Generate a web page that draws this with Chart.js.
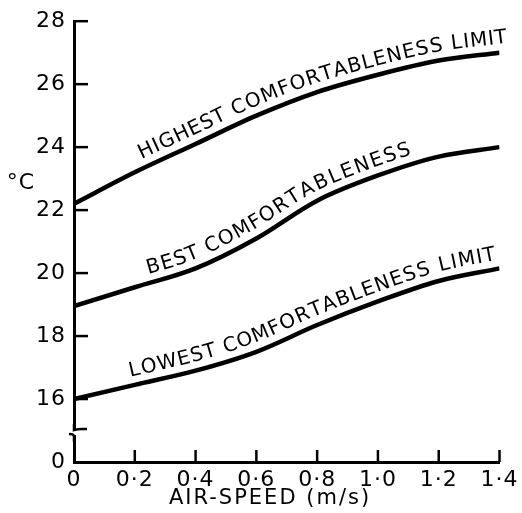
<!DOCTYPE html>
<html>
<head>
<meta charset="utf-8">
<script src="https://cdn.jsdelivr.net/npm/chart.js@4.4.1/dist/chart.umd.min.js"></script>
<style>
  html, body { margin: 0; padding: 0; background: #fff; }
</style>
</head>
<body>
<canvas id="chart" width="522" height="513"></canvas>
<script>
const airSpeed = [0, 0.2, 0.4, 0.6, 0.8, 1.0, 1.2, 1.4];
const highestLimit = [22.2, 23.2, 24.1, 25.0, 25.75, 26.3, 26.75, 27.0];
const bestComfort = [18.95, 19.55, 20.15, 21.1, 22.3, 23.1, 23.7, 24.0];
const lowestLimit = [16.0, 16.45, 16.9, 17.5, 18.35, 19.1, 19.75, 20.15];
const seriesNames = [
  "HIGHEST COMFORTABLENESS LIMIT",
  "BEST COMFORTABLENESS",
  "LOWEST COMFORTABLENESS LIMIT",
];
const xTickLabels = ["0", "0·2", "0·4", "0·6", "0·8", "1·0", "1·2", "1·4"];
const yTickLabels = ["0", "16", "18", "20", "22", "24", "26", "28"];
const xTitle = "AIR-SPEED (m/s)";
const yTitle = "°C";

const FONT = "'DejaVu Sans', sans-serif";

const toPoints = (ys) => airSpeed.map((x, i) => ({ x, y: ys[i] }));

// sample the drawn bezier of a dataset into a polyline
const curvePolyline = (meta) => {
  const pts = meta.data;
  const out = [];
  for (let i = 0; i < pts.length - 1; i++) {
    const a = pts[i];
    const b = pts[i + 1];
    const c1x = a.cp2x ?? a.x, c1y = a.cp2y ?? a.y;
    const c2x = b.cp1x ?? b.x, c2y = b.cp1y ?? b.y;
    for (let k = 0; k < 24; k++) {
      const t = k / 24, u = 1 - t;
      out.push({
        x: u * u * u * a.x + 3 * u * u * t * c1x + 3 * u * t * t * c2x + t * t * t * b.x,
        y: u * u * u * a.y + 3 * u * u * t * c1y + 3 * u * t * t * c2y + t * t * t * b.y,
      });
    }
  }
  const last = pts[pts.length - 1];
  const prev = out[out.length - 1];
  out.push({ x: last.x, y: last.y });
  // extend a little past the end along the final direction
  const dx = last.x - prev.x, dy = last.y - prev.y;
  const d = Math.hypot(dx, dy) || 1;
  out.push({ x: last.x + (dx / d) * 40, y: last.y + (dy / d) * 40 });
  let s = 0;
  out.forEach((p, i) => {
    if (i) s += Math.hypot(p.x - out[i - 1].x, p.y - out[i - 1].y);
    p.s = s;
  });
  return out;
};

const arcAtX = (poly, x) => {
  for (let i = 1; i < poly.length; i++) {
    if (poly[i].x >= x) {
      const a = poly[i - 1], b = poly[i];
      const t = (x - a.x) / (b.x - a.x || 1);
      return a.s + t * (b.s - a.s);
    }
  }
  return poly[poly.length - 1].s;
};

const pointAtArc = (poly, s) => {
  for (let i = 1; i < poly.length; i++) {
    if (poly[i].s >= s) {
      const a = poly[i - 1], b = poly[i];
      const t = (s - a.s) / (b.s - a.s || 1);
      return {
        x: a.x + t * (b.x - a.x),
        y: a.y + t * (b.y - a.y),
        angle: Math.atan2(b.y - a.y, b.x - a.x),
      };
    }
  }
  const a = poly[poly.length - 2], b = poly[poly.length - 1];
  return { x: b.x, y: b.y, angle: Math.atan2(b.y - a.y, b.x - a.x) };
};

const decorPlugin = {
  id: "decor",
  beforeDraw(chart) {
    chart.ctx.letterSpacing = "1px";
  },
  afterDraw(chart) {
    const { ctx, chartArea, scales } = chart;
    const xs = scales.x;
    const ys = scales.y;
    ctx.save();
    ctx.strokeStyle = "#000";
    ctx.fillStyle = "#000";
    ctx.lineWidth = 2.5;
    ctx.lineCap = "butt";

    // inward tick marks
    ys.ticks.forEach((t) => {
      if (t.value <= ys.min) return;
      const py = ys.getPixelForValue(t.value);
      ctx.beginPath();
      ctx.moveTo(chartArea.left, py);
      ctx.lineTo(chartArea.left + 14, py);
      ctx.stroke();
    });
    xs.ticks.forEach((t) => {
      if (t.value <= xs.min) return;
      const px = xs.getPixelForValue(t.value);
      ctx.beginPath();
      ctx.moveTo(px, chartArea.bottom);
      ctx.lineTo(px, chartArea.bottom - 12);
      ctx.stroke();
    });

    // axis break between 0 and 16
    const by = ys.getPixelForValue(14.95);
    const ax = chartArea.left;
    ctx.fillStyle = "#fff";
    ctx.fillRect(ax - 3, by - 3, 6, 6);
    ctx.fillStyle = "#000";
    ctx.lineWidth = 2.5;
    ctx.beginPath();
    ctx.moveTo(ax, by - 8);
    ctx.lineTo(ax, by - 2);
    ctx.bezierCurveTo(ax + 6, by - 4, ax + 10, by - 3, ax + 13, by - 3);
    ctx.stroke();
    ctx.beginPath();
    ctx.moveTo(ax - 5, by + 2);
    ctx.bezierCurveTo(ax - 2, by + 2, ax, by + 2, ax, by + 5);
    ctx.lineTo(ax, by + 10);
    ctx.stroke();

    // axis titles
    ctx.textAlign = "center";
    ctx.textBaseline = "middle";
    ctx.letterSpacing = "1px";
    ctx.font = `22px ${FONT}`;
    ctx.fillText(yTitle, chartArea.left - 53, ys.getPixelForValue(22.85));
    ctx.letterSpacing = "2px";
    ctx.font = `21px ${FONT}`;
    ctx.fillText(xTitle, xs.getPixelForValue(0.645), chartArea.bottom + 37);

    // labels written along each curve
    const labelSpan = [
      [0.235, 1.43],
      [0.252, 1.12],
      [0.192, 1.395],
    ];
    ctx.letterSpacing = "0px";
    ctx.font = `20px ${FONT}`;
    ctx.textBaseline = "alphabetic";
    chart.data.datasets.forEach((ds, i) => {
      const poly = curvePolyline(chart.getDatasetMeta(i));
      const s0 = arcAtX(poly, xs.getPixelForValue(labelSpan[i][0]));
      const s1 = arcAtX(poly, xs.getPixelForValue(labelSpan[i][1]));
      const chars = [...seriesNames[i]];
      const widths = chars.map((c) => ctx.measureText(c).width);
      const total = widths.reduce((a, w) => a + w, 0);
      const gap = (s1 - s0 - total) / (chars.length - 1);
      let s = s0;
      chars.forEach((c, k) => {
        const p = pointAtArc(poly, s + widths[k] / 2);
        ctx.save();
        ctx.translate(p.x, p.y);
        ctx.rotate(p.angle);
        ctx.fillText(c, 0, -9);
        ctx.restore();
        s += widths[k] + gap;
      });
    });
    ctx.restore();
  },
};

const lineStyle = {
  borderColor: "#000",
  borderWidth: 4.5,
  pointRadius: 0,
  fill: false,
  cubicInterpolationMode: "monotone",
};

new Chart(document.getElementById("chart"), {
  type: "line",
  data: {
    datasets: [
      { label: seriesNames[0], data: toPoints(highestLimit), ...lineStyle },
      { label: seriesNames[1], data: toPoints(bestComfort), ...lineStyle },
      { label: seriesNames[2], data: toPoints(lowestLimit), ...lineStyle },
    ],
  },
  options: {
    responsive: false,
    animation: false,
    layout: { padding: { top: 21, right: 22, left: 0, bottom: 0 } },
    plugins: {
      legend: { display: false },
      tooltip: { enabled: false },
    },
    scales: {
      x: {
        type: "linear",
        min: 0,
        max: 1.4,
        grid: { display: false, drawTicks: false },
        border: { display: true, color: "#000", width: 3 },
        ticks: {
          stepSize: 0.2,
          autoSkip: false,
          maxRotation: 0,
          padding: 5,
          color: "#000",
          font: { family: FONT, size: 22 },
          callback: (v, i) => xTickLabels[i],
        },
        afterFit: (scale) => {
          scale.height = 51;
        },
      },
      y: {
        type: "linear",
        min: 14,
        max: 28,
        grid: { display: false, drawTicks: false },
        border: { display: true, color: "#000", width: 3 },
        ticks: {
          stepSize: 2,
          autoSkip: false,
          padding: 8,
          color: "#000",
          font: { family: FONT, size: 22 },
          callback: (v, i) => yTickLabels[i],
        },
        afterFit: (scale) => {
          scale.width = 74;
        },
      },
    },
  },
  plugins: [decorPlugin],
});
</script>
</body>
</html>
